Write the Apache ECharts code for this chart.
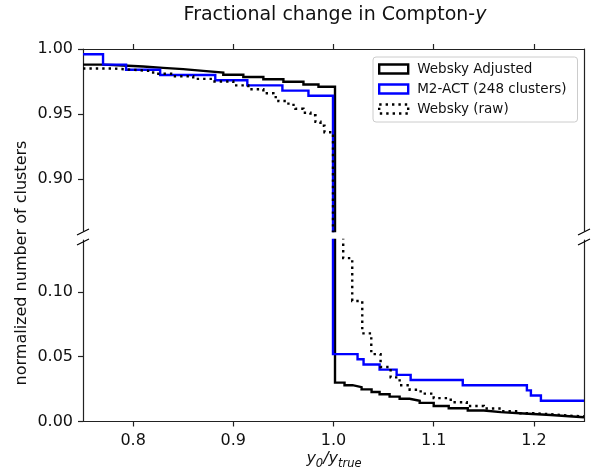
<!DOCTYPE html>
<html>
<head>
<meta charset="utf-8">
<script src="https://cdn.jsdelivr.net/npm/echarts@6/dist/echarts.min.js"></script>
<style>
html,body{margin:0;padding:0;background:#fff;}
#chart{width:603px;height:472px;}
</style>
</head>
<body>
<div id="chart"></div>
<script>
// ---- data ----
const xTicks = [0.8, 0.9, 1.0, 1.1, 1.2];
const yTicksTop = [0.90, 0.95, 1.00];
const yTicksBottom = [0.00, 0.05, 0.10];
const legendNames = ['Websky Adjusted', 'M2-ACT (248 clusters)', 'Websky (raw)'];

// Websky Adjusted (step edges and values)
const adjustedX = [0.75, 0.77, 0.79, 0.81, 0.83, 0.85, 0.87, 0.89, 0.91, 0.93, 0.95, 0.97, 0.985,
  1.0015, 1.011, 1.019, 1.028, 1.038, 1.046, 1.056, 1.066, 1.076, 1.086, 1.10, 1.115, 1.134, 1.15, 1.167, 1.19, 1.217, 1.235, 1.25];
const adjustedY = [0.9880, 0.9873, 0.9865, 0.9855, 0.9845, 0.9832, 0.9818, 0.9802, 0.9785, 0.9767, 0.9748, 0.9727, 0.9710,
  0.0300, 0.0280, 0.0265, 0.0248, 0.0228, 0.0210, 0.0192, 0.0175, 0.0160, 0.0144, 0.0120, 0.0102, 0.0085, 0.0072, 0.0062, 0.0050, 0.0040, 0.0033, 0.0030];

// M2-ACT (248 clusters)
const actX = [0.75, 0.77, 0.793, 0.827, 0.882, 0.914, 0.949, 0.975,
  0.9995, 1.024, 1.030, 1.046, 1.063, 1.077, 1.129, 1.193, 1.197, 1.207, 1.25];
const actY = [0.996, 0.988, 0.984, 0.980, 0.976, 0.972, 0.968, 0.964,
  0.052, 0.048, 0.044, 0.040, 0.036, 0.032, 0.028, 0.024, 0.020, 0.016, 0.016];

// Websky (raw)
const rawX = [0.75, 0.78, 0.80, 0.82, 0.84, 0.86, 0.88, 0.90, 0.915, 0.93, 0.94, 0.945, 0.955, 0.962, 0.97, 0.977, 0.982, 0.987, 0.991,
  0.9995, 1.0097, 1.0187, 1.0287, 1.0377, 1.047, 1.057, 1.066, 1.076, 1.087, 1.10, 1.117, 1.133, 1.15, 1.167, 1.184, 1.20, 1.22, 1.235, 1.25];
const rawY = [0.985, 0.984, 0.983, 0.981, 0.979, 0.977, 0.975, 0.972, 0.969, 0.966, 0.963, 0.960, 0.957, 0.954, 0.951, 0.949, 0.944, 0.941, 0.936,
  0.20, 0.126, 0.093, 0.068, 0.052, 0.042, 0.034, 0.028, 0.0245, 0.0215, 0.018, 0.0149, 0.012, 0.010, 0.008, 0.0064, 0.0055, 0.0045, 0.0040, 0.0035];

// ---- chart ----
const FONT = 'DejaVu Sans';
const zip = (xs, ys) => xs.map((x, i) => [x, ys[i]]);
const L = 83, R = 584, W = R - L;
const topGrid = {left: L, top: 49, width: W, height: 182};
const botGrid = {left: L, top: 240, width: W, height: 181.5};
const spine = {color: '#222', width: 1.2};

function xAxisFor(gridIndex, pos, labels) {
  return {
    type: 'value', gridIndex, position: pos, min: 0.75, max: 1.25,
    axisLine: {show: true, onZero: false, lineStyle: spine},
    axisTick: {show: true, inside: false, length: 5, lineStyle: spine, customValues: xTicks},
    axisLabel: {show: labels, margin: 11, fontSize: 16, fontFamily: FONT, color: '#111',
      customValues: xTicks, formatter: v => Number(v).toFixed(1)},
    splitLine: {show: false}
  };
}
function yAxisFor(gridIndex, min, max, ticks) {
  return {
    type: 'value', gridIndex, position: 'left', min, max,
    axisLine: {show: true, onZero: false, lineStyle: spine},
    axisTick: {show: true, length: 5, lineStyle: spine, customValues: ticks},
    axisLabel: {margin: 10, fontSize: 16, fontFamily: FONT, color: '#111',
      customValues: ticks, formatter: v => Number(v).toFixed(2)},
    splitLine: {show: false}
  };
}
function rightSpine(gridIndex, min, max) {
  return {
    type: 'value', gridIndex, position: 'right', min, max,
    axisLine: {show: true, onZero: false, lineStyle: spine},
    axisTick: {show: false}, axisLabel: {show: false}, splitLine: {show: false}
  };
}

const styles = [
  {color: '#000000', width: 2.4, type: 'solid'},
  {color: '#0000ff', width: 2.4, type: 'solid'},
  {color: '#000000', width: 2.4, type: [2.4, 4]}
];
const datasets = [zip(adjustedX, adjustedY), zip(actX, actY), zip(rawX, rawY)];

const series = [];
[0, 1].forEach(g => {
  datasets.forEach((d, k) => {
    series.push({
      type: 'line', name: legendNames[k], data: d, step: 'end',
      xAxisIndex: g, yAxisIndex: g * 2, symbol: 'none', showSymbol: false,
      color: styles[k].color, z: 2 + k,
      lineStyle: {color: styles[k].color, width: styles[k].width, type: styles[k].type, cap: 'butt', join: 'miter'},
      clip: true, silent: true
    });
  });
});

function brk(x, y) {
  return {type: 'line', shape: {x1: x - 6, y1: y + 3, x2: x + 6, y2: y - 3},
    style: {stroke: '#000', lineWidth: 1.2}, z: 10};
}

// x-axis name  y0 / ytrue  (italic, with subscripts) laid out piecewise
function xNameParts(cx, cy) {
  const ctx = document.createElement('canvas').getContext('2d');
  const big = 'italic 16px "' + FONT + '"', small = 'italic 11.5px "' + FONT + '"';
  const parts = [
    {t: 'y', f: big, fs: 16, dy: 0},
    {t: '0', f: small, fs: 11.5, dy: 5},
    {t: '/y', f: big, fs: 16, dy: 0},
    {t: 'true', f: small, fs: 11.5, dy: 5}
  ];
  let total = 0;
  parts.forEach(p => { ctx.font = p.f; p.w = ctx.measureText(p.t).width; total += p.w; });
  let x = cx - total / 2;
  return parts.map(p => {
    const el = {type: 'text', x: x, y: cy + p.dy, z: 10,
      style: {text: p.t, fontSize: p.fs, fontFamily: FONT, fontStyle: 'italic', fill: '#111',
        align: 'left', verticalAlign: 'middle'}};
    x += p.w;
    return el;
  });
}

const option = {
  animation: false,
  backgroundColor: '#fff',
  grid: [topGrid, botGrid],
  xAxis: [xAxisFor(0, 'top', false), xAxisFor(1, 'bottom', true)],
  yAxis: [yAxisFor(0, 0.86, 1.0, yTicksTop), rightSpine(0, 0.86, 1.0),
          yAxisFor(1, 0.0, 0.14, yTicksBottom), rightSpine(1, 0.0, 0.14)],
  legend: {
    orient: 'vertical', left: 373, top: 57, selectedMode: false,
    itemWidth: 29, itemHeight: 9, itemGap: 6,
    padding: [5, 11, 6, 5],
    borderColor: '#cccccc', borderWidth: 1, borderRadius: 3,
    backgroundColor: 'rgba(255,255,255,0.8)',
    textStyle: {fontSize: 13.5, fontFamily: FONT, color: '#111', padding: [0, 0, 0, 4]},
    data: [
      {name: legendNames[0], icon: 'rect', itemStyle: {color: '#fff', borderColor: '#000', borderWidth: 2.4}},
      {name: legendNames[1], icon: 'rect', itemStyle: {color: '#fff', borderColor: '#0000ff', borderWidth: 2.4}},
      {name: legendNames[2], icon: 'rect', itemStyle: {color: '#fff', borderColor: '#000', borderWidth: 2.4, borderType: [2.4, 4]}}
    ]
  },
  graphic: [
    {type: 'text', x: 335, y: 15, z: 10,
      style: {text: 'Fractional change in Compton-{i|y}', fontSize: 19, fontFamily: FONT, fill: '#111',
        align: 'center', verticalAlign: 'middle',
        rich: {i: {fontSize: 19, fontFamily: FONT, fontStyle: 'italic', fill: '#111'}}}},
    {type: 'text', x: 22, y: 263, rotation: Math.PI / 2, z: 10,
      style: {text: 'normalized number of clusters', fontSize: 16, fontFamily: FONT, fill: '#111',
        align: 'center', verticalAlign: 'middle'}},
    ...xNameParts(334, 459),
    brk(L, 232), brk(R, 232), brk(L, 242), brk(R, 242)
  ],
  series
};

const chart = echarts.init(document.getElementById('chart'), null, {renderer: 'canvas'});
chart.setOption(option);
</script>
</body>
</html>
